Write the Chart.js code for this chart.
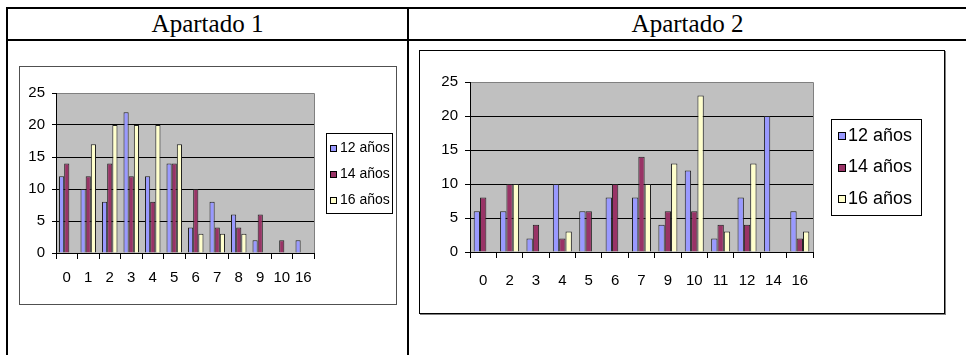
<!DOCTYPE html>
<html><head><meta charset="utf-8">
<script src="https://cdn.jsdelivr.net/npm/chart.js@4.4.0/dist/chart.umd.min.js"></script>
<style>
html,body{margin:0;padding:0;background:#fff;width:966px;height:355px;overflow:hidden;position:relative;}
.ln{position:absolute;background:#000;}
.hdr{position:absolute;top:8px;height:31px;line-height:31px;text-align:center;font-family:'Liberation Serif','Times New Roman',serif;font-size:25px;color:#000;white-space:nowrap;}
.box{position:absolute;background:#fff;}
canvas{position:absolute;}
</style></head><body>
<div class="ln" style="left:6px;top:7px;width:960px;height:2px"></div>
<div class="ln" style="left:6px;top:39px;width:960px;height:2px"></div>
<div class="ln" style="left:6px;top:7px;width:2px;height:348px"></div>
<div class="ln" style="left:407px;top:7px;width:2px;height:348px"></div>
<div class="hdr" style="left:8px;width:399px">Apartado 1</div>
<div class="hdr" style="left:409px;width:557px">Apartado 2</div>
<div class="box" style="left:19px;top:66px;width:376px;height:237px;border:1px solid #505050"></div>
<div class="box" style="left:419px;top:50px;width:524px;height:262px;border:1px solid #000;box-shadow:1px 1px 0 #808080"></div>
<canvas id="c1" width="376" height="237" style="left:20px;top:67px;width:376px;height:237px"></canvas>
<canvas id="c2" width="524" height="262" style="left:420px;top:51px;width:524px;height:262px"></canvas>
<script>
// ---- Data ----
const seriesLabels = ['12 años', '14 años', '16 años'];

const categories1 = ['0','1','2','3','4','5','6','7','8','9','10','16'];
const edad12_ap1 = [12, 10, 8, 22, 12, 14, 4, 8, 6, 2, 0, 2];
const edad14_ap1 = [14, 12, 14, 12, 8, 14, 10, 4, 4, 6, 2, 0];
const edad16_ap1 = [0, 17, 20, 20, 20, 17, 3, 3, 3, 0, 0, 0];

const categories2 = ['0','2','3','4','5','6','7','9','10','11','12','14','16'];
const edad12_ap2 = [6, 6, 2, 10, 6, 8, 8, 4, 12, 2, 8, 20, 6];
const edad14_ap2 = [8, 10, 4, 2, 6, 10, 14, 6, 6, 4, 4, 0, 2];
const edad16_ap2 = [0, 10, 0, 3, 0, 0, 10, 13, 23, 3, 13, 0, 3];

const yTicks = [0, 5, 10, 15, 20, 25];

// ---- Styles ----
const seriesColors = ['#9999FF', '#993366', '#FFFFCC'];

Chart.defaults.font.family = "'Liberation Sans', Arial, sans-serif";
Chart.defaults.color = '#000';

const plotBg = {
  id: 'plotBg',
  beforeDraw(chart) {
    const {ctx, chartArea: a} = chart;
    ctx.save();
    ctx.fillStyle = '#C0C0C0';
    ctx.fillRect(a.left, a.top, a.right - a.left, a.bottom - a.top);
    ctx.strokeStyle = '#808080';
    ctx.lineWidth = 1;
    ctx.beginPath();
    ctx.moveTo(a.left, Math.round(a.top) + 0.5);
    ctx.lineTo(Math.round(a.right) + 0.5, Math.round(a.top) + 0.5);
    ctx.lineTo(Math.round(a.right) + 0.5, a.bottom);
    ctx.stroke();
    ctx.restore();
  }
};

const boxLegend = {
  id: 'boxLegend',
  afterDraw(chart, args, o) {
    const ctx = chart.ctx, ca = chart.chartArea;
    const left = Math.round(ca.right + o.dx);
    const top = Math.round((ca.top + ca.bottom) / 2 - o.h / 2);
    ctx.save();
    ctx.fillStyle = '#fff';
    ctx.fillRect(left, top, o.w, o.h);
    ctx.strokeStyle = '#000';
    ctx.lineWidth = 1;
    ctx.strokeRect(left + 0.5, top + 0.5, o.w, o.h);
    ctx.font = o.font;
    ctx.textBaseline = 'middle';
    ctx.textAlign = 'left';
    chart.data.datasets.forEach((ds, i) => {
      const cy = top + o.first + i * o.gap;
      const sx = left + o.sx;
      const sy = Math.round(cy - o.s / 2);
      ctx.fillStyle = ds.backgroundColor;
      ctx.fillRect(sx, sy, o.s, o.s);
      ctx.strokeStyle = '#000';
      ctx.strokeRect(sx + 0.5, sy + 0.5, o.s - 1, o.s - 1);
      ctx.fillStyle = '#000';
      ctx.fillText(ds.label, left + o.tx, cy);
    });
    ctx.restore();
  }
};

function makeChart(id, cats, s12, s14, s16, cfg) {
  const data = [s12, s14, s16];
  return new Chart(document.getElementById(id), {
    type: 'bar',
    data: {
      labels: cats,
      datasets: data.map((d, i) => ({
        label: seriesLabels[i],
        data: d,
        backgroundColor: seriesColors[i],
        borderColor: '#202020',
        borderWidth: 1,
        categoryPercentage: cfg.catPct,
        barPercentage: 1.0
      }))
    },
    options: {
      responsive: false,
      animation: false,
      devicePixelRatio: 1,
      layout: {padding: {top: cfg.padTop, right: cfg.padRight, left: 0, bottom: 0}},
      plugins: {
        legend: {display: false},
        tooltip: {enabled: false},
        boxLegend: cfg.legend
      },
      scales: {
        x: {
          offset: true,
          grid: {offset: true, drawOnChartArea: false, drawTicks: true, tickLength: 6, tickColor: '#000', color: '#000'},
          border: {display: true, color: '#000', width: 1},
          ticks: {autoSkip: false, maxRotation: 0, minRotation: 0, padding: cfg.xPad, font: {size: cfg.axisFont}, color: '#000'},
          afterFit: s => { s.height = cfg.xH; }
        },
        y: {
          min: yTicks[0],
          max: yTicks[yTicks.length - 1],
          afterBuildTicks: s => { s.ticks = yTicks.map(v => ({value: v})); },
          ticks: {padding: cfg.yPad, font: {size: cfg.axisFont}, color: '#000'},
          grid: {
            color: c => (c.tick && c.tick.value === yTicks[yTicks.length - 1]) ? 'rgba(0,0,0,0)' : '#000',
            tickColor: '#000', tickLength: cfg.yTick, drawTicks: true
          },
          border: {display: true, color: '#000', width: 1},
          afterFit: s => { s.width = cfg.yW; }
        }
      }
    },
    plugins: [plotBg, boxLegend]
  });
}

makeChart('c1', categories1, edad12_ap1, edad14_ap1, edad16_ap1, {
  catPct: 0.72, padTop: 26, padRight: 82, xH: 51, yW: 36, xPad: 10, yPad: 7, yTick: 4, axisFont: 15,
  legend: {dx: 12, w: 66, h: 80, first: 15, gap: 26, sx: 4, s: 7, tx: 14, font: "14px 'Liberation Sans', Arial, sans-serif"}
});

makeChart('c2', categories2, edad12_ap2, edad14_ap2, edad16_ap2, {
  catPct: 0.72, padTop: 31, padRight: 131, xH: 61, yW: 50, xPad: 14, yPad: 7, yTick: 5, axisFont: 15,
  legend: {dx: 18, w: 90, h: 96, first: 17, gap: 31.5, sx: 7, s: 8, tx: 17, font: "18px 'Liberation Sans', Arial, sans-serif"}
});
</script>
</body></html>
